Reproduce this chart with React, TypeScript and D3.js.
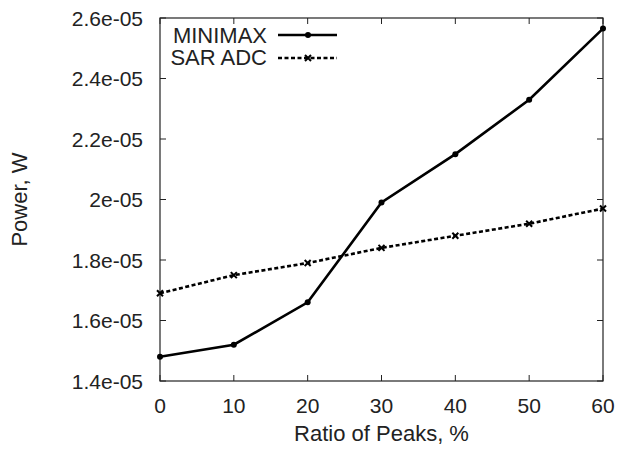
import React from 'react';
import * as d3 from 'd3';

const ratios = [0, 10, 20, 30, 40, 50, 60];
const minimax = [1.48e-5, 1.52e-5, 1.66e-5, 1.99e-5, 2.15e-5, 2.33e-5, 2.565e-5];
const sarAdc = [1.69e-5, 1.75e-5, 1.79e-5, 1.84e-5, 1.88e-5, 1.92e-5, 1.97e-5];
const xTicks = [0, 10, 20, 30, 40, 50, 60];
const yTicks = [1.4e-5, 1.6e-5, 1.8e-5, 2.0e-5, 2.2e-5, 2.4e-5, 2.6e-5];
const yTickLabels = ['1.4e-05', '1.6e-05', '1.8e-05', '2e-05', '2.2e-05', '2.4e-05', '2.6e-05'];

export default function App() {
    const width = 620;
    const height = 450;
    const left = 160, right = 603, top = 18, bottom = 381;
    const font = 'Liberation Sans, Arial, Helvetica, sans-serif';
    const ink = '#222';

    const x = d3.scaleLinear().domain([0, 60]).range([left, right]);
    const y = d3.scaleLinear().domain([1.4e-5, 2.6e-5]).range([bottom, top]);

    const line = d3.line<number>()
        .x((d, i) => x(ratios[i]))
        .y(d => y(d));

    const tick = 6;

    // cross marker for SAR ADC
    const cross = (cx: number, cy: number, key: string) => (
        <path key={key} d={`M${cx - 3},${cy - 3}L${cx + 3},${cy + 3}M${cx - 3},${cy + 3}L${cx + 3},${cy - 3}`}
            stroke="#000" strokeWidth={2} />
    );

    return (
        <svg width={width} height={height} style={{ position: 'absolute', left: 0, top: 0, background: '#fff' }}
            fontFamily={font}>
            {/* ticks on all four sides, pointing in */}
            {xTicks.map(t => (
                <g key={'xt' + t}>
                    <line x1={x(t)} x2={x(t)} y1={bottom} y2={bottom - tick} stroke={ink} strokeWidth={1} />
                    <line x1={x(t)} x2={x(t)} y1={top} y2={top + tick} stroke={ink} strokeWidth={1} />
                    <text x={x(t)} y={413} textAnchor="middle" fontSize={21} fill={ink}>{t}</text>
                </g>
            ))}
            {yTicks.map((t, i) => (
                <g key={'yt' + i}>
                    <line x1={left} x2={left + tick} y1={y(t)} y2={y(t)} stroke={ink} strokeWidth={1} />
                    <line x1={right} x2={right - tick} y1={y(t)} y2={y(t)} stroke={ink} strokeWidth={1} />
                    <text x={143} y={y(t)} dy="0.36em" textAnchor="end" fontSize={21} fill={ink}>{yTickLabels[i]}</text>
                </g>
            ))}
            <rect x={left} y={top} width={right - left} height={bottom - top} fill="none" stroke={ink} strokeWidth={1.2} />

            {/* series */}
            <path d={line(minimax) || ''} fill="none" stroke="#000" strokeWidth={2.6} />
            {minimax.map((v, i) => (
                <circle key={'m' + i} cx={x(ratios[i])} cy={y(v)} r={3} fill="#000" />
            ))}
            <path d={line(sarAdc) || ''} fill="none" stroke="#000" strokeWidth={2.6} strokeDasharray="4,2.5" />
            {sarAdc.map((v, i) => cross(x(ratios[i]), y(v), 's' + i))}

            {/* legend */}
            <text x={267} y={43} textAnchor="end" fontSize={22} fill={ink}>MINIMAX</text>
            <line x1={278} x2={337} y1={35} y2={35} stroke="#000" strokeWidth={2.6} />
            <circle cx={308} cy={35} r={3} fill="#000" />
            <text x={267} y={65} textAnchor="end" fontSize={22} fill={ink}>SAR ADC</text>
            <line x1={278} x2={337} y1={58} y2={58} stroke="#000" strokeWidth={2.6} strokeDasharray="4,2.5" />
            {cross(308, 58, 'legcross')}

            {/* axis titles */}
            <text x={(left + right) / 2} y={441} textAnchor="middle" fontSize={22} fill={ink}>Ratio of Peaks, %</text>
            <text transform={`translate(27,${(top + bottom) / 2}) rotate(-90)`} textAnchor="middle" fontSize={22} fill={ink}>Power, W</text>
        </svg>
    );
}
